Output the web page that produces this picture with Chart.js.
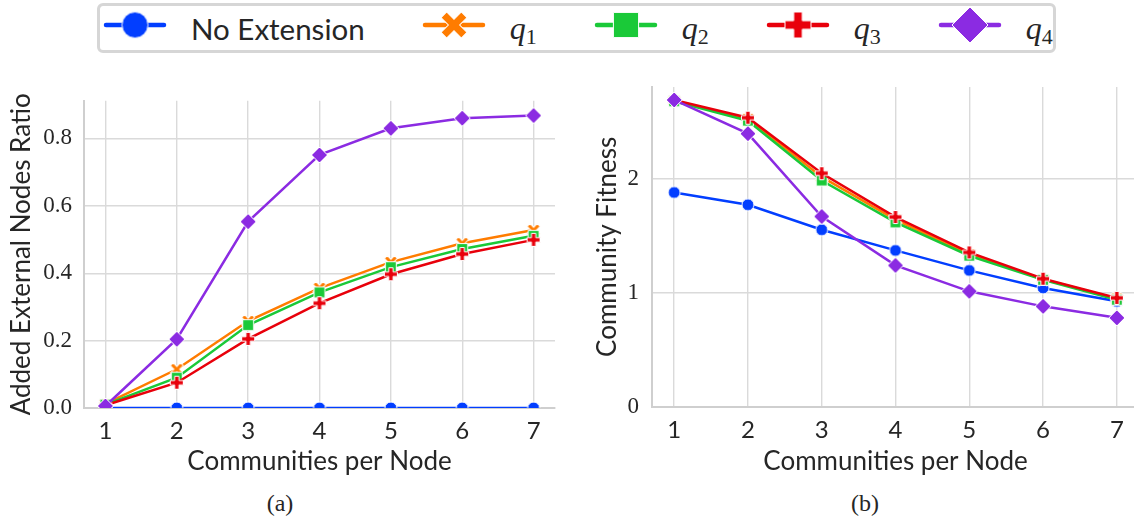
<!DOCTYPE html>
<html>
<head>
<meta charset="utf-8">
<script src="https://cdn.jsdelivr.net/npm/chart.js@4.4.1/dist/chart.umd.min.js"></script>
<style>
  html, body { margin: 0; padding: 0; background: #fff; }
  body { width: 1134px; height: 525px; position: relative; overflow: hidden; color: #262626; }
  #legend {
    position: absolute; left: 97px; top: 3px; width: 950px; height: 44px;
    border: 3px solid #d6d6d6; border-radius: 6px; padding-left: 3px;
    display: flex; align-items: center; box-sizing: content-box;
  }
  .item { display: flex; align-items: center; margin-right: 57px; }
  .item:last-child { margin-right: 0; }
  .item canvas { position: relative; top: -3px; margin-right: 24px; }
  .lbl { font-family: Lato, "Noto Sans", sans-serif; font-size: 29.5px; }
  .q { font-family: "Liberation Serif", serif; font-size: 32px; }
  .q sub { font-style: normal; font-size: 22px; vertical-align: -5px; line-height: 0; }
  canvas.chart { position: absolute; top: 60px; }
  #chartA { left: 0; }
  #chartB { left: 566px; }
  .cap { position: absolute; top: 490px; width: 100px; text-align: center; font-family: "Liberation Serif", serif; font-size: 24px; }
</style>
</head>
<body>
<div id="legend"></div>
<canvas id="chartA" class="chart" width="566" height="420"></canvas>
<canvas id="chartB" class="chart" width="590" height="420"></canvas>
<div class="cap" style="left:230px">(a)</div>
<div class="cap" style="left:815px">(b)</div>
<script>
const communities = [1, 2, 3, 4, 5, 6, 7];
const seriesNames = ['No Extension', 'q1', 'q2', 'q3', 'q4'];

// (a) added external nodes ratio
const ratioNoExt = [0, 0, 0, 0, 0, 0, 0];
const ratioQ1 = [0.012, 0.115, 0.258, 0.356, 0.433, 0.489, 0.528];
const ratioQ2 = [0.010, 0.090, 0.246, 0.343, 0.418, 0.472, 0.511];
const ratioQ3 = [0.008, 0.075, 0.205, 0.311, 0.397, 0.457, 0.499];
const ratioQ4 = [0.006, 0.204, 0.553, 0.751, 0.830, 0.860, 0.868];

// (b) community fitness
const fitnessNoExt = [1.883, 1.775, 1.555, 1.374, 1.198, 1.044, 0.926];
const fitnessQ1 = [2.690, 2.530, 2.020, 1.645, 1.340, 1.120, 0.950];
const fitnessQ2 = [2.685, 2.514, 1.988, 1.620, 1.327, 1.115, 0.940];
const fitnessQ3 = [2.695, 2.540, 2.052, 1.667, 1.356, 1.125, 0.956];
const fitnessQ4 = [2.696, 2.400, 1.672, 1.242, 1.014, 0.882, 0.781];

const ratioTicks = [0, 0.2, 0.4, 0.6, 0.8];
const fitnessTicks = [0, 1, 2];

const colors = ['#023eff', '#ff7c00', '#1ac938', '#e8000b', '#8b2be2'];
const shapes = ['circle', 'x', 'square', 'plus', 'diamond'];
const sans = 'Lato, "Noto Sans", sans-serif';
const serif = '"Liberation Serif", serif';
const textColor = '#262626';

function makeMarker(shape, size, color) {
  const c = document.createElement('canvas');
  c.width = c.height = Math.ceil(size * 1.5) + 4;
  const g = c.getContext('2d');
  g.translate(c.width / 2, c.height / 2);
  const r = size / 2;
  g.beginPath();
  if (shape === 'circle') {
    g.arc(0, 0, r, 0, Math.PI * 2);
  } else if (shape === 'square') {
    g.rect(-r * 0.9, -r * 0.9, r * 1.8, r * 1.8);
  } else if (shape === 'diamond') {
    g.moveTo(0, -r); g.lineTo(r, 0); g.lineTo(0, r); g.lineTo(-r, 0); g.closePath();
  } else {
    // filled plus, rotated for the X
    if (shape === 'x') g.rotate(Math.PI / 4);
    const a = shape === 'x' ? r * 1.2 : r;
    const t = size / 6;
    g.moveTo(-t, -a); g.lineTo(t, -a); g.lineTo(t, -t); g.lineTo(a, -t);
    g.lineTo(a, t); g.lineTo(t, t); g.lineTo(t, a); g.lineTo(-t, a);
    g.lineTo(-t, t); g.lineTo(-a, t); g.lineTo(-a, -t); g.lineTo(-t, -t);
    g.closePath();
  }
  g.fillStyle = color;
  g.fill();
  g.strokeStyle = '#ffffff';
  g.lineWidth = 1;
  g.stroke();
  return c;
}

const chartSizes = { circle: 12, x: 12, square: 12, plus: 13, diamond: 16 };
const legendSizes = { circle: 26, x: 24, square: 28, plus: 26, diamond: 36 };

// legend
const legend = document.getElementById('legend');
seriesNames.forEach((name, i) => {
  const item = document.createElement('div');
  item.className = 'item';
  const h = document.createElement('canvas');
  h.width = 64; h.height = 40;
  const g = h.getContext('2d');
  g.strokeStyle = colors[i];
  g.lineWidth = 4.5;
  g.lineCap = 'round';
  g.beginPath(); g.moveTo(3, 20); g.lineTo(61, 20); g.stroke();
  const m = makeMarker(shapes[i], legendSizes[shapes[i]], colors[i]);
  g.drawImage(m, 32 - m.width / 2, 20 - m.height / 2);
  item.appendChild(h);
  const t = document.createElement('span');
  if (i === 0) {
    t.className = 'lbl';
    t.textContent = name;
  } else {
    t.className = 'q';
    t.innerHTML = '<i>q</i><sub>' + name.slice(1) + '</sub>';
  }
  item.appendChild(t);
  legend.appendChild(item);
});

function buildDatasets(seriesList) {
  return seriesList.map((vals, i) => ({
    label: seriesNames[i],
    data: communities.map((c, j) => ({ x: c, y: vals[j] })),
    borderColor: colors[i],
    backgroundColor: colors[i],
    borderWidth: 2.5,
    pointStyle: makeMarker(shapes[i], chartSizes[shapes[i]], colors[i]),
    pointRadius: 6,
    tension: 0,
    fill: false,
    clip: 0,
    order: seriesList.length - i
  }));
}

function makeChart(id, seriesList, cfg) {
  new Chart(document.getElementById(id), {
    type: 'line',
    data: { datasets: buildDatasets(seriesList) },
    options: {
      responsive: false,
      animation: false,
      layout: { padding: { top: cfg.padTop, right: cfg.padRight, left: 0, bottom: 0 } },
      plugins: { legend: { display: false }, tooltip: { enabled: false } },
      scales: {
        x: {
          type: 'linear', min: 0.7, max: 7.3,
          afterBuildTicks: (ax) => { ax.ticks = communities.map(v => ({ value: v })); },
          afterFit: (ax) => { ax.height = cfg.xAxisH; },
          grid: { color: '#dadada', lineWidth: 1.4, drawTicks: false },
          border: { color: '#cfcfcf', width: 2 },
          ticks: { font: { family: sans, size: 24 }, color: textColor, padding: 9, maxRotation: 0, autoSkip: false,
                   callback: (v) => String(v) },
          title: { display: true, text: 'Communities per Node', font: { family: sans, size: 26 }, color: textColor,
                   padding: { top: 0, bottom: 3 } }
        },
        y: {
          min: 0, max: cfg.yMax,
          afterBuildTicks: (ax) => { ax.ticks = cfg.ticks.map(v => ({ value: v })); },
          afterFit: (ax) => { ax.width = cfg.yAxisW; },
          grid: { color: '#dadada', lineWidth: 1.4, drawTicks: false },
          border: { color: '#cfcfcf', width: 2 },
          ticks: { font: { family: serif, size: 23 }, color: textColor, padding: cfg.tickPad,
                   callback: cfg.fmt },
          title: { display: true, text: cfg.title, font: { family: sans, size: 26 }, color: textColor,
                   padding: { top: cfg.titlePad, bottom: 0 } }
        }
      }
    }
  });
}

makeChart('chartA', [ratioNoExt, ratioQ1, ratioQ2, ratioQ3, ratioQ4], {
  padTop: 40.7, padRight: 11, xAxisH: 72, yAxisW: 84, yMax: 0.912, ticks: ratioTicks,
  fmt: (v) => v.toFixed(1), tickPad: 12, title: 'Added External Nodes Ratio', titlePad: 6
});

makeChart('chartB', [fitnessNoExt, fitnessQ1, fitnessQ2, fitnessQ3, fitnessQ4], {
  padTop: 27, padRight: 17, xAxisH: 73.3, yAxisW: 86, yMax: 2.81, ticks: fitnessTicks,
  fmt: (v) => String(v), tickPad: 13, title: 'Community Fitness', titlePad: 26
});
</script>
</body>
</html>
